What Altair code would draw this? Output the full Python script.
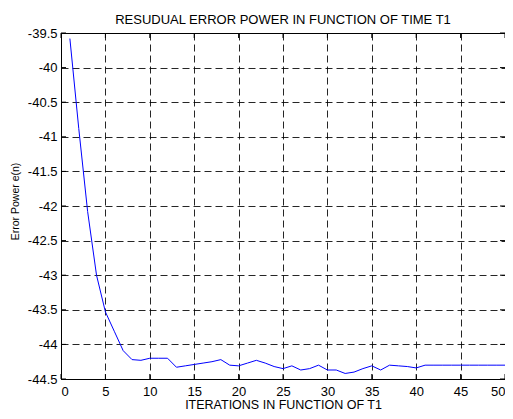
import altair as alt
import pandas as pd

title_text = ["RESUDUAL ERROR POWER IN FUNCTION OF TIME T1"]
iterations = list(range(1, 51))
error_power = [
    -39.58, -40.88, -42.08, -43.00, -43.53, -43.81, -44.09, -44.22, -44.23, -44.20,
    -44.20, -44.20, -44.33, -44.31, -44.29, -44.27, -44.25, -44.22, -44.30, -44.31,
    -44.27, -44.23, -44.27, -44.32, -44.35, -44.31, -44.37, -44.35, -44.30, -44.37,
    -44.37, -44.42, -44.40, -44.35, -44.31, -44.37, -44.30, -44.31, -44.32, -44.34,
    -44.30, -44.30, -44.30, -44.30, -44.30, -44.30, -44.30, -44.30, -44.30, -44.30,
]
x_ticks = [0, 5, 10, 15, 20, 25, 30, 35, 40, 45, 50]
y_ticks = [-44.5, -44.0, -43.5, -43.0, -42.5, -42.0, -41.5, -41.0, -40.5, -40.0, -39.5]

W, H = 444, 346
FONT = "Liberation Sans"

df = pd.DataFrame({"it": iterations, "err": error_power})
xt = pd.DataFrame({"it": x_ticks})
yt = pd.DataFrame({"err": y_ticks})
tt = pd.DataFrame({"t": title_text})

xs = alt.Scale(domain=[0, 50], nice=False, zero=False)
ys = alt.Scale(domain=[-44.5, -39.5], nice=False, zero=False)

x_axis = alt.Axis(
    values=x_ticks, title="ITERATIONS IN FUNCTION OF T1", labelPadding=6,
    labelExpr="'' + datum.value", titleY=29, titleBaseline="alphabetic",
    titleFontSize=12.5, titleFontWeight="normal",
)
y_axis = alt.Axis(
    values=y_ticks, title="Error Power e(n)", labelPadding=4,
    labelExpr="'' + datum.value", titleAngle=270, titleX=-43, titleY=168,
    titleAlign="center", titleBaseline="alphabetic", titleFontSize=10.5,
    titleFontWeight="normal",
)

X = alt.X("it:Q", scale=xs, axis=x_axis)
Y = alt.Y("err:Q", scale=ys, axis=y_axis)

line = alt.Chart(df).mark_line(color="#0000FF", strokeWidth=1).encode(x=X, y=Y)

tick_top = alt.Chart(xt).mark_rule(color="black", strokeWidth=1).encode(
    x=X, y=alt.value(0), y2=alt.value(5))
tick_bot = alt.Chart(xt).mark_rule(color="black", strokeWidth=1).encode(
    x=X, y=alt.value(H - 5), y2=alt.value(H))
tick_left = alt.Chart(yt).mark_rule(color="black", strokeWidth=1).encode(
    y=Y, x=alt.value(0), x2=alt.value(5))
tick_right = alt.Chart(yt).mark_rule(color="black", strokeWidth=1).encode(
    y=Y, x=alt.value(W - 5), x2=alt.value(W))

title = alt.Chart(tt).mark_text(
    font=FONT, fontSize=13, color="black", align="center", baseline="alphabetic"
).encode(text="t:N", x=alt.value(W / 2), y=alt.value(-9))

chart = alt.layer(line, tick_top, tick_bot, tick_left, tick_right, title).properties(
    width=W, height=H,
    background="white",
    autosize=alt.AutoSizeParams(type="none"),
    padding={"left": 53, "top": 25, "right": 0, "bottom": 32},
).configure_view(
    stroke="black", strokeWidth=1
).configure_axis(
    labelFont=FONT, labelFontSize=13, labelColor="black",
    titleFont=FONT, titleColor="black",
    domainColor="black", domainWidth=1,
    grid=True, gridColor="black", gridOpacity=0.85, gridDash=[7, 4], gridWidth=1,
    ticks=False, tickSize=0,
)

chart.save("out.html", embed_options={"renderer": "svg", "actions": False})
